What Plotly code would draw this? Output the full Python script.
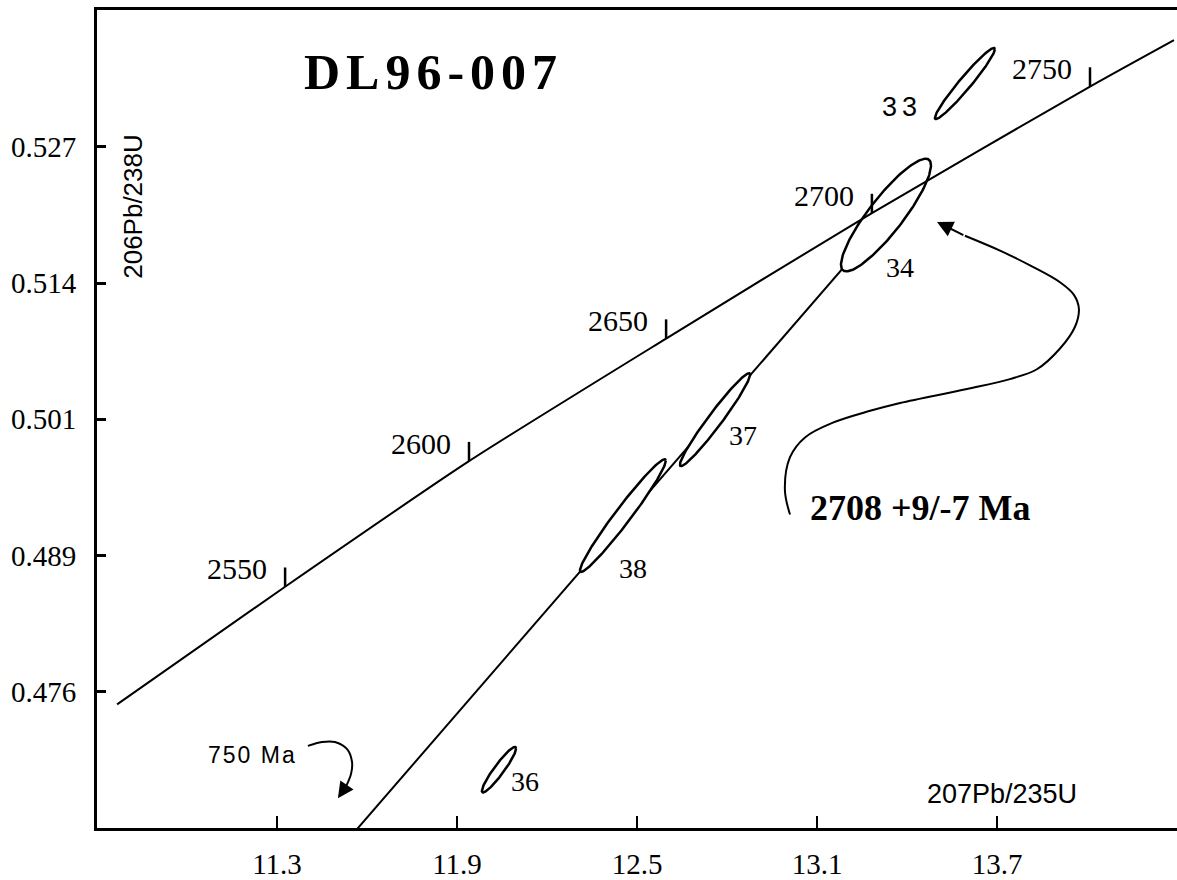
import numpy as np
import plotly.graph_objects as go

# ---- axis ticks ----
x_ticks = [11.3, 11.9, 12.5, 13.1, 13.7]
x_tick_text = ["11.3", "11.9", "12.5", "13.1", "13.7"]
y_ticks = [0.476, 0.48875, 0.5015, 0.51425, 0.527]
y_tick_text = ["0.476", "0.489", "0.501", "0.514", "0.527"]

# ---- concordia curve (207Pb/235U, 206Pb/238U) ----
concordia_x = [10.767, 11.327, 11.94, 12.597, 13.283, 14.01, 14.29]
concordia_y = [0.47482, 0.48583, 0.49758, 0.50905, 0.52080, 0.53264, 0.53699]

# age marks on the concordia (Ma)
mark_ages = [2550, 2600, 2650, 2700, 2750]
mark_x = [11.327, 11.94, 12.597, 13.283, 14.01]
mark_y = [0.48583, 0.49758, 0.50905, 0.52080, 0.53264]

# ---- discordia: upper intercept 2708 Ma to lower intercept side ----
discordia_x = [13.40, 11.52]
discordia_y = [0.52256, 0.46163]

# ---- zircon analyses: centre, 2-sigma errors, correlation ----
spot_ids = ["33", "34", "37", "38", "36"]
spot_x = [13.593, 13.33, 12.76, 12.453, 12.04]
spot_sx = [0.10, 0.15, 0.117, 0.143, 0.057]
spot_y = [0.53292, 0.52061, 0.50146, 0.49249, 0.46871]
spot_sy = [0.00333, 0.00527, 0.00435, 0.00527, 0.00213]
spot_rho = [0.966, 0.88, 0.969, 0.973, 0.933]

# label anchor positions for each spot
label_x = [13.383, 13.377, 12.853, 12.487, 12.127]
label_y = [0.53070, 0.51571, 0.49998, 0.48749, 0.46760]

# curved pointer from the age result towards the upper intercept
pointer_x = [13.01, 12.993, 13.01, 13.06, 13.153, 13.277, 13.377, 13.60, 13.743,
             13.833, 13.91, 13.96, 13.973, 13.957, 13.91, 13.81, 13.71, 13.593]
pointer_y = [0.49258, 0.49489, 0.49795, 0.49980, 0.50118, 0.50229, 0.50303, 0.50433,
             0.50526, 0.50618, 0.50812, 0.51016, 0.51183, 0.51312, 0.51432, 0.51590,
             0.51728, 0.51867]
pointer_tip = (13.50, 0.51997)

# curved pointer for the lower intercept note
low_x = [11.403, 11.45, 11.493, 11.533, 11.55, 11.547, 11.53]
low_y = [0.47093, 0.47130, 0.47130, 0.47065, 0.46945, 0.46834, 0.46714]
low_tip = (11.503, 0.46603)

SERIF = "Liberation Serif"
SANS = "Liberation Sans"
INK = "black"

fig = go.Figure()

# discordia (underneath the white-filled ellipses)
fig.add_trace(go.Scatter(x=discordia_x, y=discordia_y, mode="lines",
                         line=dict(color=INK, width=2), hoverinfo="skip"))

# error ellipses
t = np.linspace(0, 2 * np.pi, 181)
for cx, sx, cy, sy, r in zip(spot_x, spot_sx, spot_y, spot_sy, spot_rho):
    ex = cx + sx * np.cos(t)
    ey = cy + sy * (r * np.cos(t) + np.sqrt(1 - r * r) * np.sin(t))
    fig.add_trace(go.Scatter(x=ex, y=ey, mode="lines", fill="toself",
                             fillcolor="white", line=dict(color=INK, width=2.5),
                             hoverinfo="skip"))

# concordia
fig.add_trace(go.Scatter(x=concordia_x, y=concordia_y, mode="lines",
                         line=dict(color=INK, width=2, shape="spline", smoothing=0.6),
                         hoverinfo="skip"))

# age tick marks on concordia
tick_h = 0.0018
tx, ty = [], []
for mx, my in zip(mark_x, mark_y):
    tx += [mx, mx, None]
    ty += [my, my + tick_h, None]
fig.add_trace(go.Scatter(x=tx, y=ty, mode="lines", line=dict(color=INK, width=2.5),
                         hoverinfo="skip"))

# pointers
fig.add_trace(go.Scatter(x=pointer_x, y=pointer_y, mode="lines",
                         line=dict(color=INK, width=2, shape="spline"), hoverinfo="skip"))
fig.add_trace(go.Scatter(x=low_x, y=low_y, mode="lines",
                         line=dict(color=INK, width=2, shape="spline"), hoverinfo="skip"))

annotations = []

# arrow heads
annotations.append(dict(x=pointer_tip[0], y=pointer_tip[1], ax=pointer_x[-1], ay=pointer_y[-1],
                        axref="x", ayref="y", xref="x", yref="y", text="", showarrow=True,
                        arrowhead=2, arrowsize=1.6, arrowwidth=2, arrowcolor=INK, standoff=0))
annotations.append(dict(x=low_tip[0], y=low_tip[1], ax=low_x[-1], ay=low_y[-1],
                        axref="x", ayref="y", xref="x", yref="y", text="", showarrow=True,
                        arrowhead=2, arrowsize=1.6, arrowwidth=2, arrowcolor=INK, standoff=0))

# age labels on concordia
for age, mx, my in zip(mark_ages, mark_x, mark_y):
    annotations.append(dict(x=mx, y=my, text=str(age), showarrow=False,
                            xanchor="center", yanchor="middle",
                            xshift=-48, yshift=18, font=dict(family=SERIF, size=30, color=INK)))

# spot labels
for sid, lx, ly in zip(spot_ids, label_x, label_y):
    if sid == "33":
        txt, fam, size = '<span style="letter-spacing:5px">33</span>', SANS, 27
    else:
        txt, fam, size = sid, SERIF, 28
    annotations.append(dict(x=lx, y=ly, text=txt, showarrow=False,
                            xanchor="center", yanchor="middle",
                            font=dict(family=fam, size=size, color=INK)))

# text placed in paper coordinates, centred on the given point
def note(x, y, text, family, size, weight="normal", angle=0):
    annotations.append(dict(x=x, y=y, xref="paper", yref="paper", showarrow=False,
                            xanchor="center", yanchor="middle", text=text, textangle=angle,
                            font=dict(family=family, size=size, color=INK, weight=weight)))

note(0.312, 0.924, '<span style="letter-spacing:6px">DL96-007</span>', SERIF, 50, "bold")
note(0.762, 0.391, "2708 +9/-7 Ma", SERIF, 36, "bold")
note(0.1444, 0.0895, '<span style="letter-spacing:2px">750 Ma</span>', SANS, 23)
note(0.838, 0.041, "207Pb/235U", SANS, 27)
note(0.0333, 0.7606, "206Pb/238U", SANS, 26, angle=-90)

fig.update_layout(
    width=1177, height=880,
    margin=dict(l=97, r=0, t=10, b=43),
    paper_bgcolor="white", plot_bgcolor="white",
    showlegend=False,
    annotations=annotations,
    xaxis=dict(range=[10.7, 14.3], tickvals=x_ticks, ticktext=x_tick_text,
               ticks="inside", ticklen=12, tickwidth=2, tickcolor=INK,
               showline=True, linewidth=3, linecolor=INK, mirror=True,
               showgrid=False, zeroline=False, ticklabelstandoff=8,
               tickfont=dict(family=SERIF, size=29, color=INK)),
    yaxis=dict(range=[0.46325, 0.5398], tickvals=y_ticks, ticktext=y_tick_text,
               ticks="inside", ticklen=9, tickwidth=3, tickcolor=INK,
               showline=True, linewidth=3, linecolor=INK,
               showgrid=False, zeroline=False, ticklabelstandoff=12,
               tickfont=dict(family=SERIF, size=29, color=INK)),
)

fig.write_html("out.html")
